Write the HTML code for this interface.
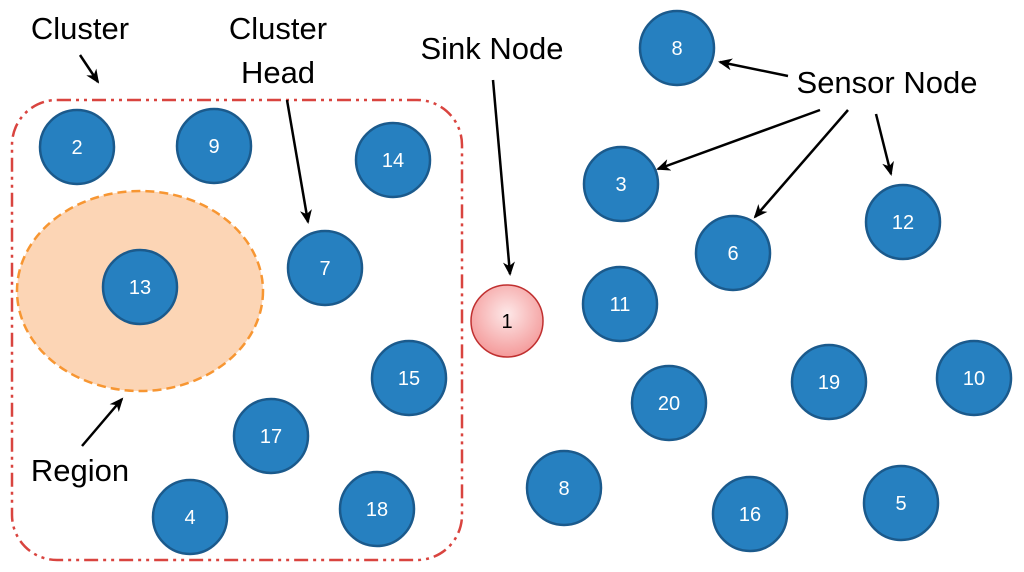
<!DOCTYPE html>
<html><head><style>body{margin:0;background:#fff}svg{display:block}</style></head><body>
<svg width="1024" height="572" viewBox="0 0 1024 572" xmlns="http://www.w3.org/2000/svg" font-family="Liberation Sans, sans-serif">
<defs><marker id="a" markerWidth="14" markerHeight="12" refX="12" refY="6" orient="auto" markerUnits="userSpaceOnUse"><path d="M0,0 L14,6 L0,12 L4,6 z" fill="#000"/></marker></defs>
<rect x="12" y="100" width="450" height="460" rx="45" fill="none" stroke="#d9443f" stroke-width="2.5" stroke-dasharray="14,5,3,5,3,5"/>
<ellipse cx="140" cy="291" rx="123" ry="100" fill="#fcd5b5" stroke="#f79632" stroke-width="2.5" stroke-dasharray="9,5"/>
<g fill="#2680c0" stroke="#1b5a8c" stroke-width="2.5">
<circle cx="77" cy="147" r="37"/><circle cx="214" cy="146" r="37"/><circle cx="393" cy="160" r="37"/>
<circle cx="325" cy="268" r="37"/><circle cx="140" cy="287" r="37"/><circle cx="409" cy="378" r="37"/>
<circle cx="271" cy="436" r="37"/><circle cx="190" cy="517" r="37"/><circle cx="377" cy="509" r="37"/>
<circle cx="677" cy="48" r="37"/><circle cx="621" cy="184" r="37"/><circle cx="733" cy="253" r="37"/>
<circle cx="903" cy="222" r="37"/><circle cx="620" cy="304" r="37"/><circle cx="669" cy="403" r="37"/>
<circle cx="829" cy="382" r="37"/><circle cx="974" cy="378" r="37"/><circle cx="564" cy="488" r="37"/>
<circle cx="750" cy="514" r="37"/><circle cx="901" cy="503" r="37"/>
</g>
<defs><radialGradient id="g" cx="50%" cy="40%" r="60%"><stop offset="0" stop-color="#fde8e8"/><stop offset="1" stop-color="#f49a9a"/></radialGradient></defs>
<circle cx="507" cy="321" r="36" fill="url(#g)" stroke="#c03030" stroke-width="1.5"/>
<g fill="#fff" font-size="20" text-anchor="middle">
<text x="77" y="154">2</text><text x="214" y="153">9</text><text x="393" y="167">14</text>
<text x="325" y="275">7</text><text x="140" y="294">13</text><text x="409" y="385">15</text>
<text x="271" y="443">17</text><text x="190" y="524">4</text><text x="377" y="516">18</text>
<text x="677" y="55">8</text><text x="621" y="191">3</text><text x="733" y="260">6</text>
<text x="903" y="229">12</text><text x="620" y="311">11</text><text x="669" y="410">20</text>
<text x="829" y="389">19</text><text x="974" y="385">10</text><text x="564" y="495">8</text>
<text x="750" y="521">16</text><text x="901" y="510">5</text>
</g>
<text x="507" y="328" font-size="20" text-anchor="middle" fill="#000">1</text>
<g font-size="31" fill="#000" text-anchor="middle">
<text x="80" y="39">Cluster</text>
<text x="278" y="39">Cluster</text><text x="278" y="83">Head</text>
<text x="492" y="59">Sink Node</text>
<text x="887" y="93">Sensor Node</text>
<text x="80" y="481">Region</text>
</g>
<g stroke="#000" stroke-width="2.5" marker-end="url(#a)" fill="none">
<line x1="80" y1="55" x2="98" y2="82"/>
<line x1="287" y1="100" x2="308" y2="222"/>
<line x1="493" y1="80" x2="510" y2="274"/>
<line x1="788" y1="76" x2="720" y2="62"/>
<line x1="820" y1="110" x2="658" y2="169"/>
<line x1="848" y1="110" x2="755" y2="217"/>
<line x1="876" y1="114" x2="891" y2="174"/>
<line x1="82" y1="446" x2="122" y2="399"/>
</g>
</svg>
</body></html>
